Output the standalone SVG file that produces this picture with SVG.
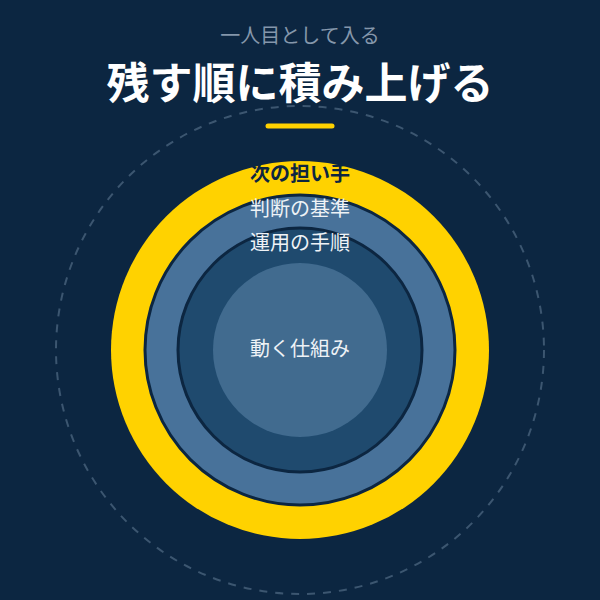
<svg xmlns="http://www.w3.org/2000/svg" width="600" height="600" viewBox="0 0 600 600">
  <style>
    .jp { font-family: "Noto Sans CJK JP", "Noto Sans", sans-serif; text-anchor: middle; }
    .lbl { font-size: 20px; fill: #eef2f6; }
    .ring { stroke: #0c2641; stroke-width: 3; }
  </style>
  <rect width="600" height="600" fill="#0c2641"/>
  <g id="header">
    <text class="jp" x="300" y="42.5" font-size="20" fill="#8597ab">一人目として入る</text>
    <text class="jp" x="300" y="99" font-size="43" font-weight="bold" fill="#ffffff">残す順に積み上げる</text>
    <line x1="268" y1="126" x2="332" y2="126" stroke="#ffd200" stroke-width="5" stroke-linecap="round"/>
  </g>
  <g id="boundary">
    <circle cx="300" cy="350" r="244" fill="none" stroke="#3c5670" stroke-width="2" stroke-dasharray="8 8"/>
  </g>
  <g id="next-bearer">
    <circle cx="300" cy="350" r="189" fill="#ffd200"/>
    <text class="jp" x="300" y="181" font-size="20" font-weight="bold" fill="#0c2641">次の担い手</text>
  </g>
  <g id="judgement">
    <circle class="ring" cx="300" cy="350" r="155" fill="#48729a"/>
    <text class="jp lbl" x="300" y="216">判断の基準</text>
  </g>
  <g id="procedure">
    <circle class="ring" cx="300" cy="350" r="122" fill="#1f4a6e"/>
    <text class="jp lbl" x="300" y="250">運用の手順</text>
  </g>
  <g id="mechanism">
    <circle cx="300" cy="350" r="87" fill="#416b8f"/>
    <text class="jp lbl" x="300" y="356">動く仕組み</text>
  </g>
  <g id="connectors"/>
</svg>
